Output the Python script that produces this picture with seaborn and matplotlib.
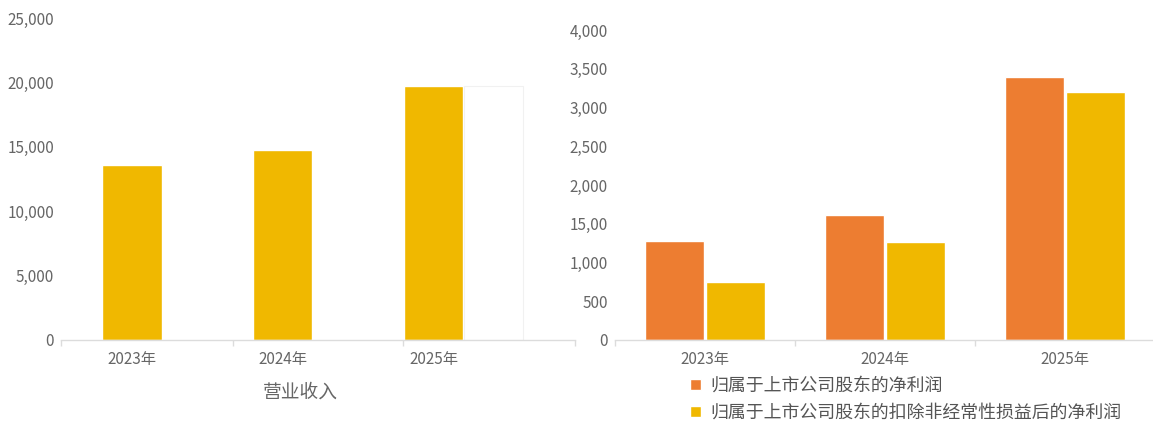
import numpy as np
import pandas as pd
import matplotlib
matplotlib.use("Agg")
import matplotlib.pyplot as plt
import seaborn as sns

# ---- data ----
years = ["2023年", "2024年", "2025年"]
revenue = [13600, 14750, 19750]
revenue_blank = [np.nan, np.nan, 19750]
net_profit = [1280, 1610, 3390]
net_profit_deducted = [750, 1265, 3200]

left_title = "营业收入"
series_right = ["归属于上市公司股东的净利润", "归属于上市公司股东的扣除非经常性损益后的净利润"]
left_yticks = [0, 5000, 10000, 15000, 20000, 25000]
left_yticklabels = ["0", "5,000", "10,000", "15,000", "20,000", "25,000"]
right_yticks = [0, 500, 1000, 1500, 2000, 2500, 3000, 3500, 4000]
right_yticklabels = ["0", "500", "1,000", "15,00", "2,000", "2,500", "3,000", "3,500", "4,000"]

YELLOW = "#F0B800"
ORANGE = "#ED7D31"
TXT = "#666666"
AXC = "#dcdcdc"

sns.set_theme(style="white")
plt.rcParams["font.family"] = ["Noto Sans CJK SC", "DejaVu Sans"]

W, H = 1153, 425
fig = plt.figure(figsize=(W / 100, H / 100), dpi=100)
fig.patch.set_facecolor("white")

# ---------------- left chart ----------------
ax1 = fig.add_axes([61 / W, (H - 340) / H, 514 / W, 322 / H])
df_l = pd.DataFrame({
    "year": years * 2,
    "value": revenue + revenue_blank,
    "series": [left_title] * 3 + ["blank"] * 3,
})
sns.barplot(data=df_l, x="year", y="value", hue="series",
            hue_order=[left_title, "blank"],
            palette={left_title: YELLOW, "blank": "white"},
            width=0.8, gap=0.02, ax=ax1, legend=False, saturation=1)
for p in ax1.patches:
    if p.get_facecolor()[:3] == (1.0, 1.0, 1.0):
        p.set_edgecolor("#f1f1f1")
        p.set_linewidth(0.8)
ax1.set_ylim(0, 25000)
ax1.set_yticks(left_yticks, labels=left_yticklabels)
xl, xr = -0.671, 2.739
ax1.set_xlim(xl, xr)
ax1.set_xticks([k - 0.2 for k in range(3)], labels=years)
ax1.set_xticks([xl, 0.470, 1.598, xr], minor=True)
ax1.set_xlabel(left_title, fontsize=13.5, color=TXT)
ax1.xaxis.set_label_coords((300 - 61) / 514, -0.13)
ax1.set_ylabel("")

# ---------------- right chart ----------------
ax2 = fig.add_axes([615 / W, (H - 340) / H, 540 / W, 310 / H])
df_r = pd.DataFrame({
    "year": years * 2,
    "value": net_profit + net_profit_deducted,
    "series": [series_right[0]] * 3 + [series_right[1]] * 3,
})
sns.barplot(data=df_r, x="year", y="value", hue="series",
            hue_order=series_right,
            palette={series_right[0]: ORANGE, series_right[1]: YELLOW},
            width=0.683, gap=0.04, ax=ax2, saturation=1)
ax2.set_ylim(0, 4000)
ax2.set_yticks(right_yticks, labels=right_yticklabels)
ax2.set_xlim(-0.5, 2.5)
ax2.set_xticks([0, 1, 2], labels=years)
ax2.set_xticks([-0.5, 0.5, 1.5, 2.5], minor=True)
ax2.set_xlabel("")
ax2.set_ylabel("")
handles, labels = ax2.get_legend_handles_labels()
ax2.legend(handles, labels, loc="upper left",
           bbox_to_anchor=(690 / W, 1 - 377 / H), bbox_transform=fig.transFigure,
           frameon=False, fontsize=12.9, labelcolor="#555555",
           handlelength=0.6, handleheight=0.6, handletextpad=0.55,
           labelspacing=0.48, borderpad=0, borderaxespad=0)

for ax in (ax1, ax2):
    ax.set_facecolor("white")
    for s in ("top", "right", "left"):
        ax.spines[s].set_visible(False)
    ax.spines["bottom"].set_color(AXC)
    ax.spines["bottom"].set_linewidth(1.0)
    ax.tick_params(axis="y", length=0, pad=5, labelsize=11, labelcolor=TXT)
    ax.tick_params(axis="x", which="major", length=0, pad=8, labelsize=11, labelcolor=TXT)
    ax.tick_params(axis="x", which="minor", length=4, width=1, color=AXC, bottom=True)
    ax.grid(False)

fig.savefig("out.png", dpi=100, facecolor="white")
